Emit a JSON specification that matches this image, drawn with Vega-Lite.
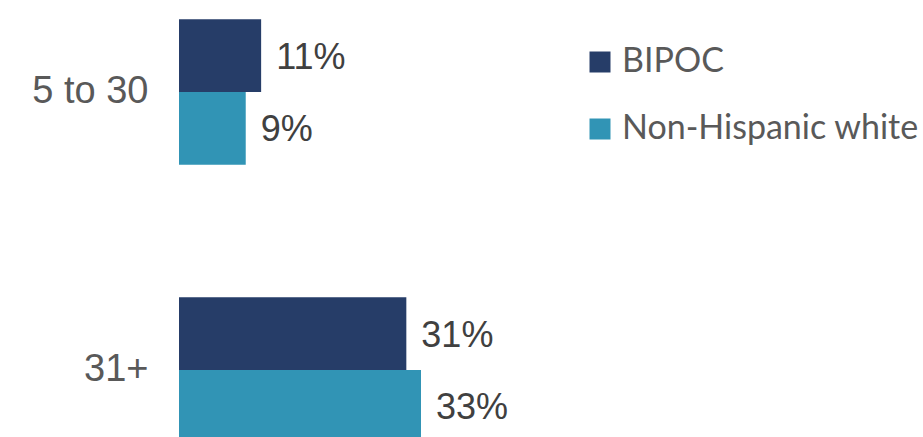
{
  "$schema": "https://vega.github.io/schema/vega-lite/v6.json",
  "width": 440,
  "height": 462,
  "autosize": "none",
  "padding": {"left": 179, "top": 0, "right": 304, "bottom": 0},
  "background": "white",
  "config": {"view": {"stroke": null}},
  "data": {
    "values": [
      {"age": "5 to 30", "group": "BIPOC", "value": 11.2, "label": "11%"},
      {"age": "5 to 30", "group": "Non-Hispanic white", "value": 9.1, "label": "9%"},
      {"age": "31+", "group": "BIPOC", "value": 31.0, "label": "31%"},
      {"age": "31+", "group": "Non-Hispanic white", "value": 33.0, "label": "33%"}
    ]
  },
  "encoding": {
    "y": {
      "field": "age", "type": "nominal", "sort": ["5 to 30", "31+"],
      "scale": {"paddingInner": 0.477, "paddingOuter": 0.0694},
      "axis": {"title": null, "domain": false, "ticks": false, "labelPadding": 31,
               "labelFont": "Liberation Sans", "labelFontSize": 38, "labelColor": "#595959"}
    },
    "yOffset": {"field": "group", "type": "nominal", "sort": ["BIPOC", "Non-Hispanic white"],
                "scale": {"paddingInner": 0, "paddingOuter": 0}}
  },
  "layer": [
    {
      "mark": {"type": "bar", "orient": "horizontal"},
      "encoding": {
        "x": {"field": "value", "type": "quantitative", "scale": {"domain": [0, 60]}, "axis": null},
        "color": {
          "field": "group", "type": "nominal",
          "scale": {"domain": ["BIPOC", "Non-Hispanic white"], "range": ["#263d68", "#3194b5"]},
          "legend": {
            "title": null, "orient": "none", "legendX": 404, "legendY": 45,
            "symbolType": "square", "symbolSize": 441, "symbolStrokeWidth": 0,
            "labelFont": "Lato", "labelFontSize": 34, "labelColor": "#595959",
            "labelOffset": 5, "rowPadding": 33, "labelLimit": 400
          }
        }
      }
    },
    {
      "mark": {"type": "text", "align": "left", "baseline": "middle", "dx": 15, "dy": 2,
               "font": "Liberation Sans", "fontSize": 36, "color": "#404040"},
      "encoding": {
        "x": {"field": "value", "type": "quantitative"},
        "text": {"field": "label"}
      }
    }
  ]
}
